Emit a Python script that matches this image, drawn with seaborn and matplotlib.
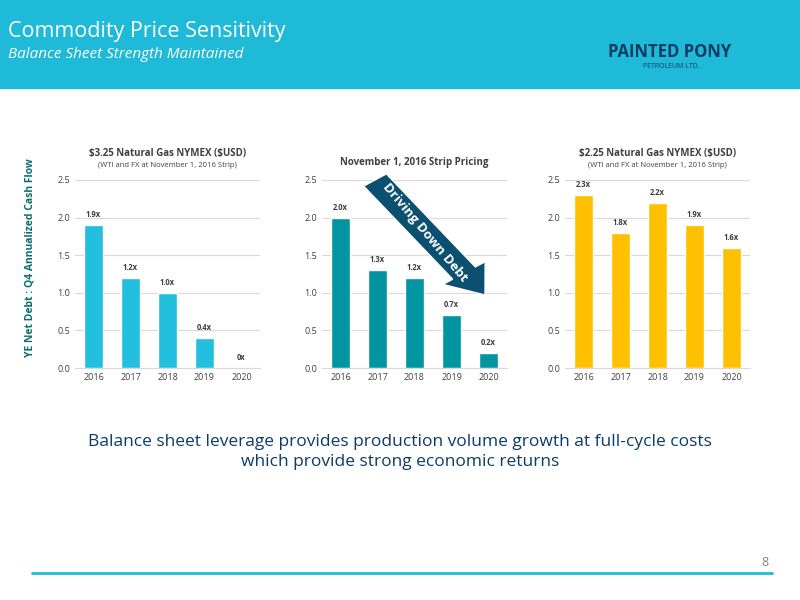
import matplotlib
matplotlib.use("Agg")
import matplotlib.pyplot as plt
import seaborn as sns
from matplotlib.patches import Rectangle, FancyArrow

sns.set_style("white")
plt.rcParams['font.family'] = ['Open Sans', 'DejaVu Sans']

years = ["2016", "2017", "2018", "2019", "2020"]
v1 = [1.9, 1.2, 1.0, 0.4, 0.0]
v2 = [2.0, 1.3, 1.2, 0.7, 0.2]
v3 = [2.3, 1.8, 2.2, 1.9, 1.6]
lab1 = ["1.9x", "1.2x", "1.0x", "0.4x", "0x"]
lab2 = ["2.0x", "1.3x", "1.2x", "0.7x", "0.2x"]
lab3 = ["2.3x", "1.8x", "2.2x", "1.9x", "1.6x"]
yticks = [0.0, 0.5, 1.0, 1.5, 2.0, 2.5]

fig = plt.figure(figsize=(8, 6), dpi=100)
fig.patches.append(Rectangle((0, 1-88/600), 1, 88/600, transform=fig.transFigure, color="#1FBAD8", zorder=0))
fig.text(0.01, 1-32/600, "Commodity Price Sensitivity", color="white", fontsize=15.5, va="center")
fig.text(0.01, 1-55/600, "Balance Sheet Strength Maintained", color="white", fontsize=11, style="italic", va="center")
fig.text(0.76, 1-52/600, "PAINTED PONY", color="#0D3B66", fontsize=12, fontweight="bold", va="center")
fig.text(0.875, 1-66/600, "PETROLEUM LTD.", color="#0D3B66", fontsize=5, va="center", ha="right")

def panel(rect, vals, labs, color, title, sub):
    ax = fig.add_axes(rect)
    sns.barplot(x=years, y=vals, color=color, width=0.52, ax=ax, saturation=1)
    ax.set_ylim(0, 2.5)
    ax.set_yticks(yticks)
    ax.set_yticklabels([f"{t:.1f}" for t in yticks])
    ax.yaxis.grid(True, color="#D9D9D9", lw=0.8)
    ax.set_axisbelow(True)
    sns.despine(ax=ax, left=True)
    ax.spines['bottom'].set_color("#D9D9D9")
    ax.tick_params(labelsize=6.5, colors="#404040", length=0)
    for i, (v, l) in enumerate(zip(vals, labs)):
        ax.text(i, v + 0.08, l, ha="center", va="bottom", fontsize=5.5, fontweight="bold", color="#404040")
    ax.set_xlabel(""); ax.set_ylabel("")
    if sub:
        ax.text(0.5, 1.13, title, transform=ax.transAxes, ha="center", fontsize=7, fontweight="bold", color="#404040")
        ax.text(0.5, 1.07, sub, transform=ax.transAxes, ha="center", fontsize=5.5, color="#404040")
    else:
        ax.text(0.5, 1.08, title, transform=ax.transAxes, ha="center", fontsize=7, fontweight="bold", color="#404040")
    return ax

sub = "(WTI and FX at November 1, 2016 Strip)"
panel([75/800, 1-368/600, 185/800, 188/600], v1, lab1, "#22BFDF", r"\$3.25 Natural Gas NYMEX (\$USD)", sub)
panel([322/800, 1-368/600, 185/800, 188/600], v2, lab2, "#0095A0", "November 1, 2016 Strip Pricing", None)
panel([565/800, 1-368/600, 185/800, 188/600], v3, lab3, "#FFC000", r"\$2.25 Natural Gas NYMEX (\$USD)", sub)

fig.text(0.037, 1-258/600, "YE Net Debt : Q4 Annualized Cash Flow", rotation=90, ha="center", va="center",
         fontsize=7.5, color="#0D6E6E", fontweight="bold")

arr = FancyArrow(375/800, 1-180/600, 110/800, -(115/600), width=0.035, head_width=0.065, head_length=0.045,
                 length_includes_head=True, transform=fig.transFigure, color="#0B4F71", ec="white", lw=1)
fig.patches.append(arr)
fig.text(425/800, 1-232/600, "Driving Down Debt", rotation=-50, ha="center", va="center",
         color="white", fontsize=9.5, fontweight="bold")

fig.text(0.5, 1-452/600, "Balance sheet leverage provides production volume growth at full-cycle costs\nwhich provide strong economic returns",
         ha="center", va="center", fontsize=12.5, color="#0D3B66", linespacing=1.4)
fig.lines.append(plt.Line2D([0.04, 0.965], [1-573/600]*2, transform=fig.transFigure, color="#1FBAD8", lw=2))
fig.text(0.96, 1-563/600, "8", ha="right", va="center", fontsize=9, color="#808080")

fig.savefig("out.png", dpi=100)
